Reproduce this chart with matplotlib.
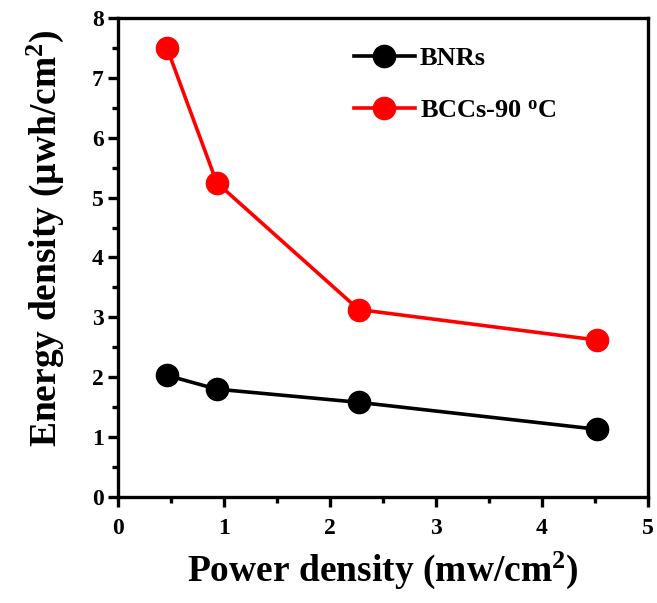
import matplotlib
matplotlib.use("Agg")
import matplotlib.pyplot as plt
from matplotlib.ticker import MultipleLocator

plt.rcParams['font.family'] = ['Liberation Serif', 'DejaVu Serif']
plt.rcParams['font.weight'] = 'bold'
plt.rcParams['mathtext.fontset'] = 'custom'
plt.rcParams['mathtext.rm'] = 'Liberation Serif:bold'
plt.rcParams['mathtext.bf'] = 'Liberation Serif:bold'
plt.rcParams['mathtext.it'] = 'Liberation Serif:bold'
plt.rcParams['mathtext.default'] = 'bf'

# data
power = [0.46, 0.93, 2.27, 4.52]
bnrs = [2.03, 1.80, 1.58, 1.13]
bccs = [7.50, 5.25, 3.13, 2.62]
labels = ['BNRs', 'BCCs-90 $^{o}$C']

fig = plt.figure(figsize=(6.57, 6.03), dpi=100)
ax = fig.add_axes([0.180, 0.176, 0.806, 0.794])

ax.plot(power, bnrs, '-o', color='black', lw=2.6, ms=16, label=labels[0])
ax.plot(power, bccs, '-o', color='red', lw=2.6, ms=16, label=labels[1])

ax.set_xlim(0, 5)
ax.set_ylim(0, 8)
ax.xaxis.set_major_locator(MultipleLocator(1))
ax.xaxis.set_minor_locator(MultipleLocator(0.5))
ax.yaxis.set_major_locator(MultipleLocator(1))
ax.yaxis.set_minor_locator(MultipleLocator(0.5))
ax.tick_params(which='major', direction='out', length=7, width=2.4, labelsize=17)
ax.tick_params(axis='x', which='major', pad=8)
ax.tick_params(which='minor', direction='out', length=4, width=2.4)
for s in ax.spines.values():
    s.set_linewidth(2.4)

ax.set_xlabel('Power density (mw/cm$^{2}$)', fontsize=27, fontweight='bold', labelpad=8)
ax.set_ylabel('Energy density (µwh/cm$^{2}$)', fontsize=27, fontweight='bold')
ax.yaxis.set_label_coords(-0.098, 0.54)

ax.legend(loc='upper left', bbox_to_anchor=(0.40, 0.99), frameon=False,
          fontsize=19, handlelength=2.3, labelspacing=1.1, handletextpad=0.2)

fig.savefig('out.png', dpi=100)
